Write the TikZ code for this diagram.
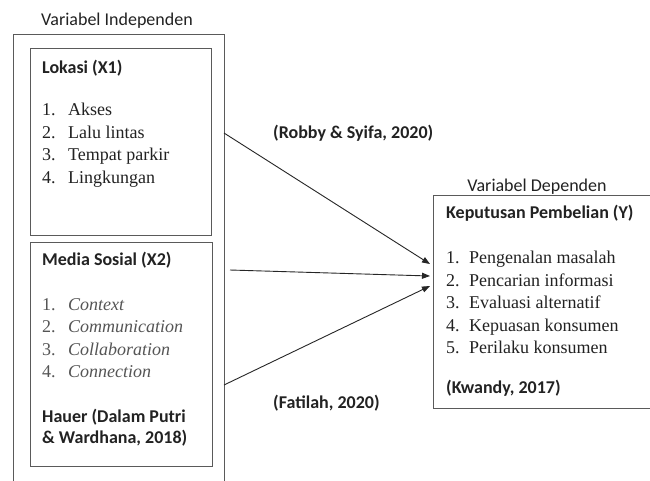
\documentclass[tikz,border=0pt]{standalone}
\usepackage{fontspec}
\setmainfont{Liberation Serif}
\setsansfont{Carlito}
\usetikzlibrary{arrows.meta}
\definecolor{boxgray}{HTML}{5A5A5A}
\definecolor{txtgray}{HTML}{222222}
\definecolor{itgray}{HTML}{555555}
\tikzset{
  frame/.style={draw=boxgray, line width=1.3pt, inner sep=0pt, anchor=north west},
  lbl/.style={inner sep=0pt, anchor=base west, text=txtgray, font=\fontsize{18}{21}\selectfont},
  head/.style={lbl, font=\sffamily\bfseries\fontsize{18}{21}\selectfont},
  captxt/.style={inner sep=0pt, anchor=base, text=txtgray, font=\sffamily\fontsize{18}{21}\selectfont},
  itemtxt/.style={lbl},
  itnum/.style={lbl, text=itgray},
  itit/.style={lbl, text=itgray, font=\itshape\fontsize{18}{21}\selectfont},
  conn/.style={draw=black!85, line width=0.9pt, -{Triangle[length=8pt,width=6pt]}}
}
\begin{document}
\begin{tikzpicture}[x=1pt,y=-1pt]
\useasboundingbox (0,0) rectangle (650,480);
\clip (0,0) rectangle (650,480);
\fill[white] (0,0) rectangle (650,480);
% boxes
\node[frame, minimum width=211pt, minimum height=460pt] (outer) at (13,34) {};
\node[frame, minimum width=181pt, minimum height=187pt] (lok) at (30,48) {};
\node[frame, minimum width=182pt, minimum height=224pt] (med) at (30,242) {};
\node[frame, minimum width=230pt, minimum height=213pt] (kep) at (433,195) {};
% captions
\node[captxt] (vi) at (117,25) {Variabel Independen};
\node[captxt] (vd) at (537,191) {Variabel Dependen};
% Lokasi
\node[head] (lokh) at (42,73) {Lokasi (X1)};
\node[itemtxt] (l1n) at (42,115) {1.}; \node[itemtxt] (l1) at (68,115) {Akses};
\node[itemtxt] (l2n) at (42,138) {2.}; \node[itemtxt] (l2) at (68,138) {Lalu lintas};
\node[itemtxt] (l3n) at (42,160) {3.}; \node[itemtxt] (l3) at (68,160) {Tempat parkir};
\node[itemtxt] (l4n) at (42,183) {4.}; \node[itemtxt] (l4) at (68,183) {Lingkungan};
% Media sosial
\node[head] (medh) at (42,265) {Media Sosial (X2)};
\node[itnum] (m1n) at (42,310) {1.}; \node[itit] (m1) at (68,310) {Context};
\node[itnum] (m2n) at (42,332) {2.}; \node[itit] (m2) at (68,332) {Communication};
\node[itnum] (m3n) at (42,355) {3.}; \node[itit] (m3) at (68,355) {Collaboration};
\node[itnum] (m4n) at (42,377) {4.}; \node[itit] (m4) at (68,377) {Connection};
\node[head] (hau1) at (42,422) {Hauer (Dalam Putri};
\node[head] (hau2) at (42,443) {\& Wardhana, 2018)};
% Keputusan
\node[head] (keph) at (446,218) {Keputusan Pembelian (Y)};
\node[itemtxt] (k1n) at (446,263) {1.}; \node[itemtxt] (k1) at (469,263) {Pengenalan masalah};
\node[itemtxt] (k2n) at (446,286) {2.}; \node[itemtxt] (k2) at (469,286) {Pencarian informasi};
\node[itemtxt] (k3n) at (446,308) {3.}; \node[itemtxt] (k3) at (469,308) {Evaluasi alternatif};
\node[itemtxt] (k4n) at (446,331) {4.}; \node[itemtxt] (k4) at (469,331) {Kepuasan konsumen};
\node[itemtxt] (k5n) at (446,353) {5.}; \node[itemtxt] (k5) at (469,353) {Perilaku konsumen};
\node[head] (kw) at (446,393) {(Kwandy, 2017)};
% arrow labels
\node[head] (rob) at (273,138) {(Robby \& Syifa, 2020)};
\node[head] (fat) at (273,408) {(Fatilah, 2020)};
% connectors
\coordinate (s1) at (224,133);
\coordinate (s2) at (230,270);
\coordinate (s3) at (224,385);
\coordinate (e1) at (430,264);
\coordinate (e2) at (430,276);
\coordinate (e3) at (430,286);
\draw[conn] (s1) -- (e1);
\draw[conn] (s2) -- (e2);
\draw[conn] (s3) -- (e3);
\end{tikzpicture}
\end{document}
